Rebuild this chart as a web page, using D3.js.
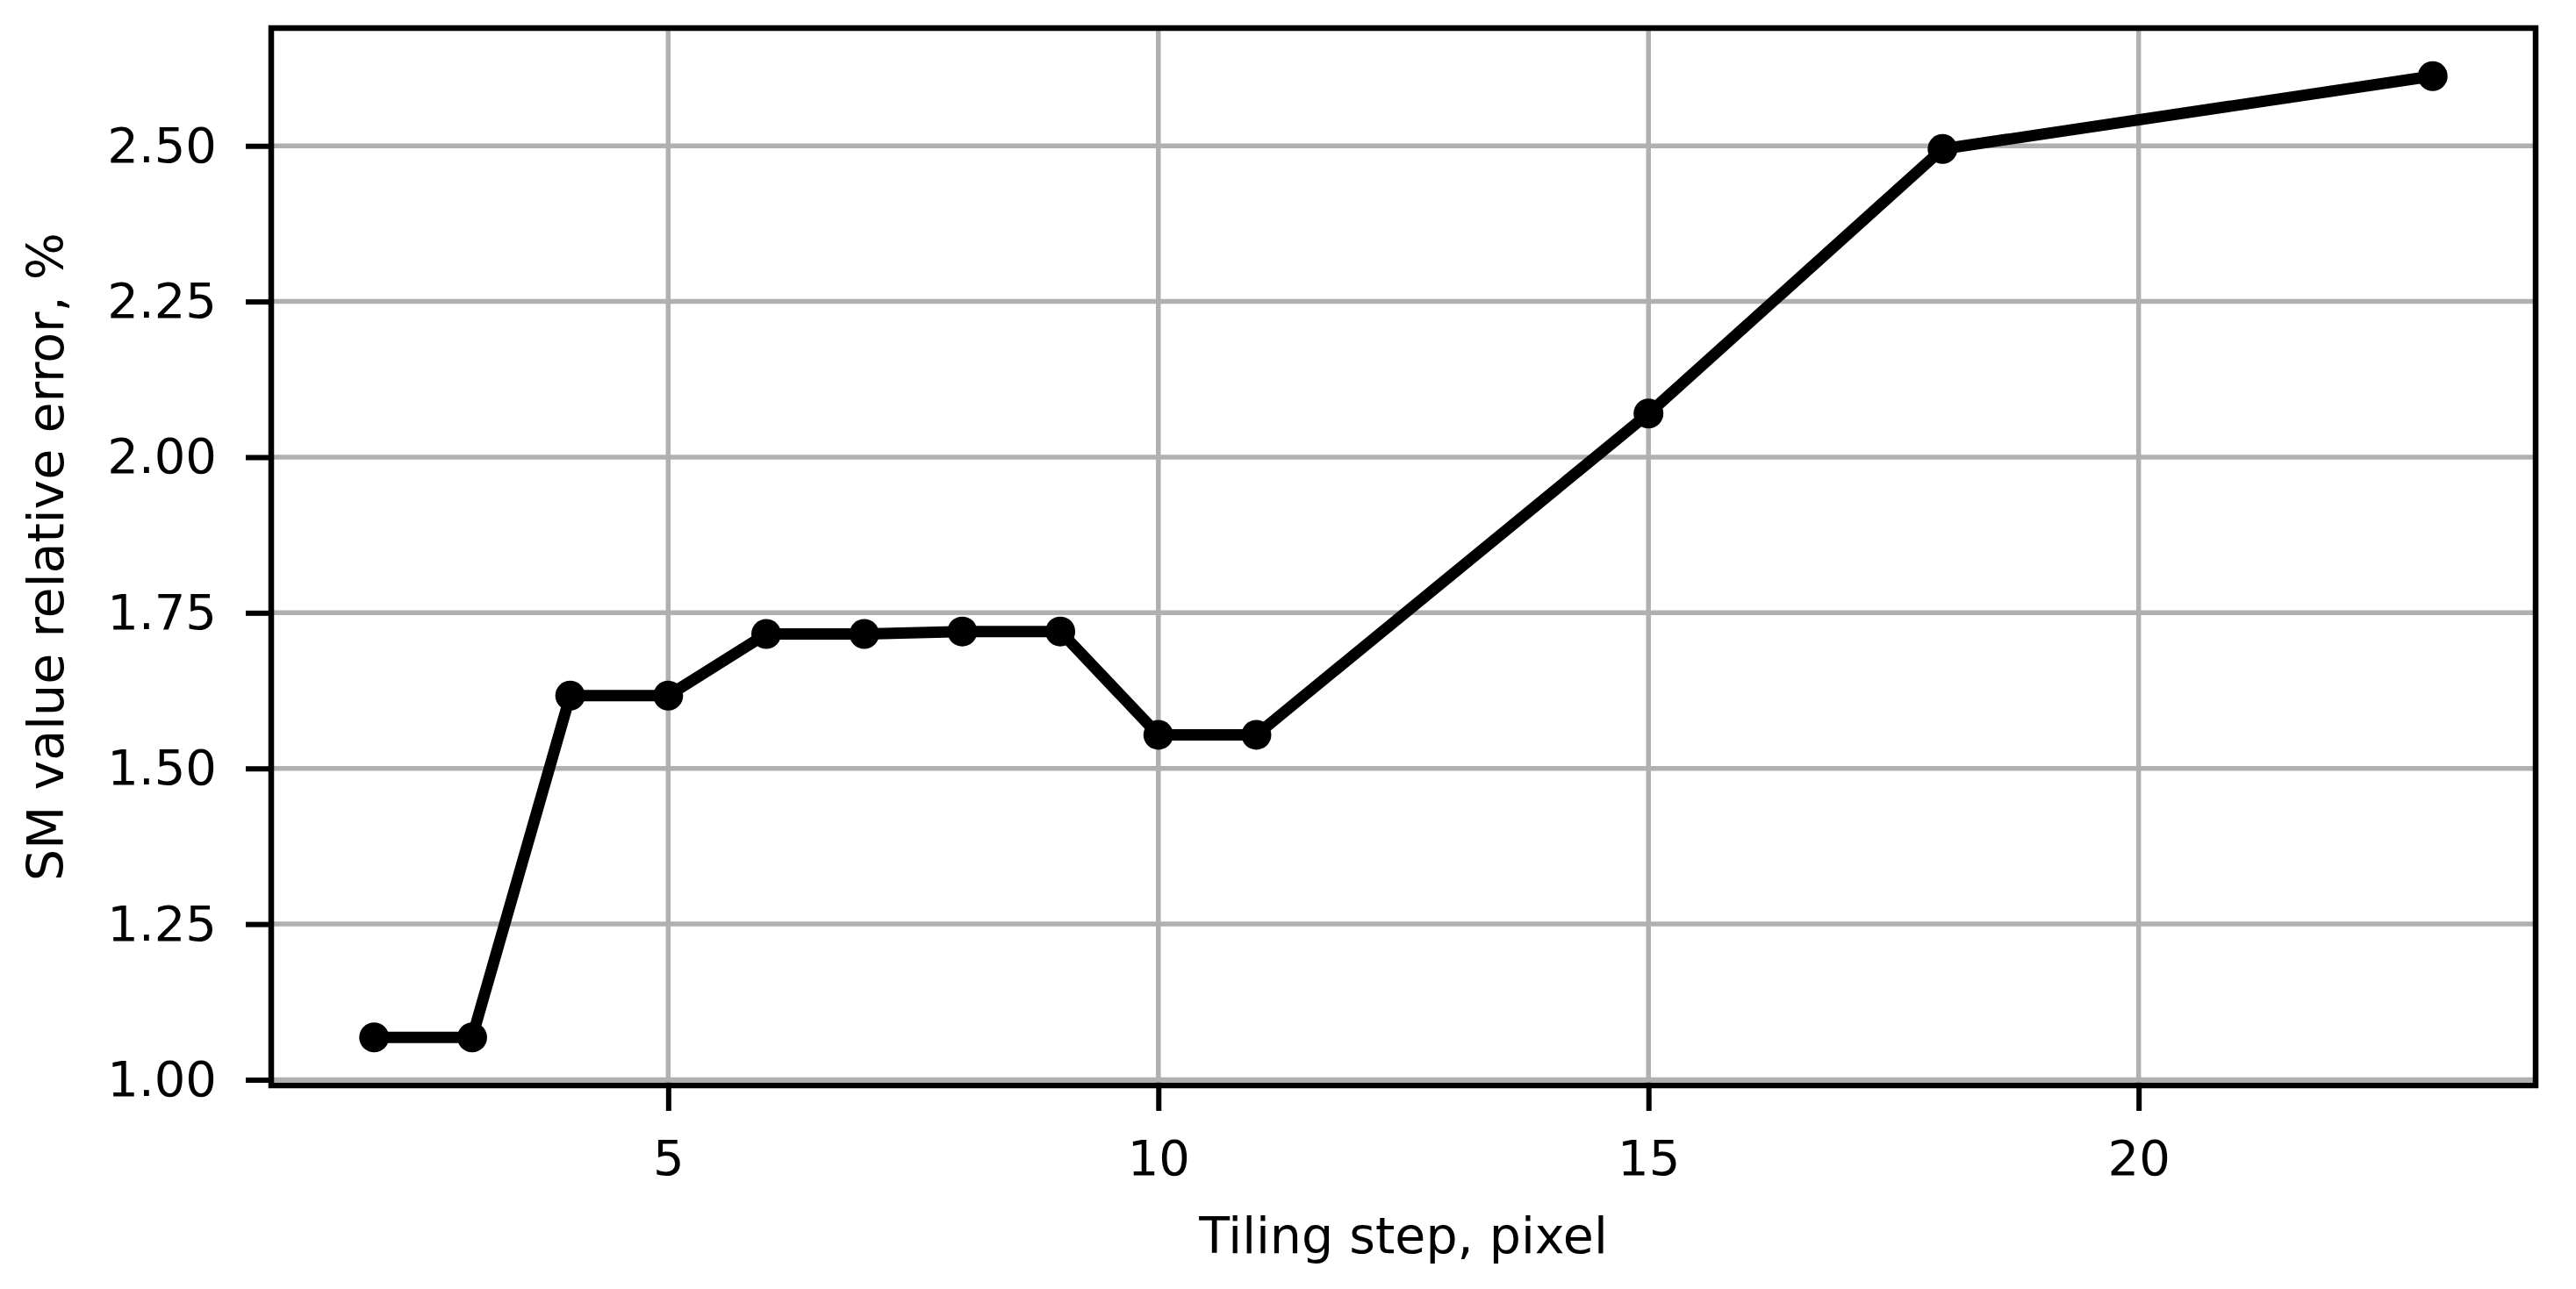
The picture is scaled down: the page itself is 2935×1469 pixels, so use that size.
<!DOCTYPE html>
<html>
<head>
<meta charset="utf-8">
<script src="https://cdn.jsdelivr.net/npm/d3@7"></script>
<style>
  html, body { margin: 0; padding: 0; background: #ffffff; }
  svg { display: block; }
  text { font-family: "DejaVu Sans", sans-serif; fill: #000; }
</style>
</head>
<body>
<svg id="chart" width="2935" height="1469"></svg>
<script>
// ---- data ----
const tilingStep = [2, 3, 4, 5, 6, 7, 8, 9, 10, 11, 15, 18, 23];
const relError   = [1.068, 1.068, 1.617, 1.617, 1.716, 1.716, 1.720, 1.720, 1.554, 1.554, 2.070, 2.495, 2.612];
const xTicks = [5, 10, 15, 20];
const yTicks = [1.00, 1.25, 1.50, 1.75, 2.00, 2.25, 2.50];
const xLabel = "Tiling step, pixel";
const yLabel = "SM value relative error, %";

// ---- layout ----
const W = 2935, H = 1469;
const margin = { left: 309, top: 32, right: 46, bottom: 232 };
const iw = W - margin.left - margin.right;
const ih = H - margin.top - margin.bottom;

const svg = d3.select("#chart");
const g = svg.append("g").attr("transform", `translate(${margin.left},${margin.top})`);

// matplotlib-like 5% auto margins
const xExt = d3.extent(tilingStep), yExt = d3.extent(relError);
const xPad = (xExt[1] - xExt[0]) * 0.05, yPad = (yExt[1] - yExt[0]) * 0.05;
const x = d3.scaleLinear().domain([xExt[0] - xPad, xExt[1] + xPad]).range([0, iw]);
const y = d3.scaleLinear().domain([yExt[0] - yPad, yExt[1] + yPad]).range([ih, 0]);

// grid
const gridColor = "#b0b0b0", gridW = 5.5;
g.append("g").selectAll("line").data(xTicks).join("line")
  .attr("x1", d => x(d)).attr("x2", d => x(d)).attr("y1", 0).attr("y2", ih)
  .attr("stroke", gridColor).attr("stroke-width", gridW);
g.append("g").selectAll("line").data(yTicks).join("line")
  .attr("x1", 0).attr("x2", iw).attr("y1", d => y(d)).attr("y2", d => y(d))
  .attr("stroke", gridColor).attr("stroke-width", gridW);

// data line + markers
const line = d3.line().x((d, i) => x(tilingStep[i])).y(d => y(d));
g.append("path").datum(relError)
  .attr("d", line).attr("fill", "none").attr("stroke", "#000")
  .attr("stroke-width", 13).attr("stroke-linejoin", "round");
g.append("g").selectAll("circle").data(relError).join("circle")
  .attr("cx", (d, i) => x(tilingStep[i])).attr("cy", d => y(d))
  .attr("r", 17).attr("fill", "#000");

// axes
const tickLen = 29, tickPad = 33, fontSize = 56;
const xAxis = d3.axisBottom(x).tickValues(xTicks).tickFormat(d3.format("d"))
  .tickSize(tickLen).tickPadding(tickPad);
const yAxis = d3.axisLeft(y).tickValues(yTicks).tickFormat(d3.format(".2f"))
  .tickSize(tickLen).tickPadding(tickPad);

const gx = g.append("g").attr("transform", `translate(0,${ih})`).call(xAxis);
const gy = g.append("g").call(yAxis);
[gx, gy].forEach(a => {
  a.select(".domain").remove();
  a.selectAll(".tick line").attr("stroke", "#000").attr("stroke-width", 6);
  a.selectAll(".tick text").attr("font-size", fontSize)
    .attr("font-family", "DejaVu Sans").attr("fill", "#000");
});
gx.selectAll(".tick text").attr("dy", "0.71em");

// spines
g.append("rect").attr("x", 0).attr("y", 0).attr("width", iw).attr("height", ih)
  .attr("fill", "none").attr("stroke", "#000").attr("stroke-width", 6.5);

// axis labels
svg.append("text").attr("x", margin.left + iw / 2).attr("y", 1428)
  .attr("text-anchor", "middle").attr("font-size", 57).text(xLabel);
svg.append("text")
  .attr("transform", `translate(72,${margin.top + ih / 2}) rotate(-90)`)
  .attr("text-anchor", "middle").attr("font-size", 57).text(yLabel);
</script>
</body>
</html>
